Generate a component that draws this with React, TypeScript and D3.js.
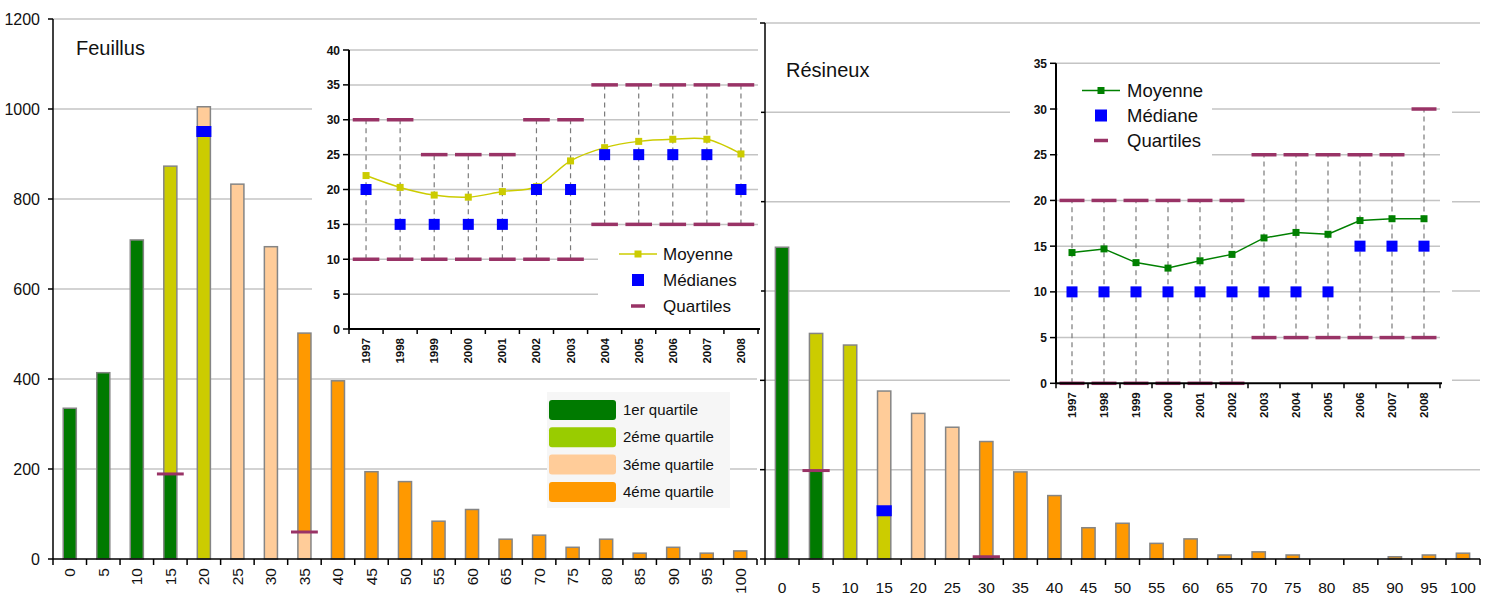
import React from 'react';
import * as d3 from 'd3';

// constants
const width = 1493;
const height = 599;
const font = "'Liberation Sans', Arial, sans-serif";

// classes de diametre
const classes = ['0', '5', '10', '15', '20', '25', '30', '35', '40', '45', '50', '55', '60', '65', '70', '75', '80', '85', '90', '95', '100'];

// effectifs par classe
const feuillusCounts = [335, 414, 709, 873, 1005, 833, 694, 502, 396, 194, 172, 84, 110, 44, 53, 26, 44, 13, 26, 13, 18];
const resineuxCounts = [698, 505, 479, 376, 326, 295, 263, 195, 142, 70, 80, 35, 45, 9, 16, 9, 0, 0, 5, 9, 13];

// quartile of the lower part of each bar
const feuillusQuartile = [1, 1, 1, 1, 2, 3, 3, 3, 4, 4, 4, 4, 4, 4, 4, 4, 4, 4, 4, 4, 4];
const resineuxQuartile = [1, 1, 2, 2, 3, 3, 3, 4, 4, 4, 4, 4, 4, 4, 4, 4, 4, 4, 4, 4, 4];

// bars that change quartile
const feuillusSplitClass = ['15', '20', '35'];
const feuillusSplitValue = [189, 950, 60];
const feuillusSplitMark = ['quartile', 'median', 'quartile'];
const resineuxSplitClass = ['5', '15', '30'];
const resineuxSplitValue = [198, 108, 5];
const resineuxSplitMark = ['quartile', 'median', 'quartile'];

const quartileLabels = ['1er quartile', '2éme quartile', '3éme quartile', '4éme quartile'];
const quartileColors = ['#007a00', '#cccc00', '#ffcc99', '#ff9900'];
const legendColors = ['#007a00', '#99cc00', '#ffcc99', '#ff9900'];

// inset series
const years = ['1997', '1998', '1999', '2000', '2001', '2002', '2003', '2004', '2005', '2006', '2007', '2008'];
const feuillusMoyenne = [22, 20.3, 19.2, 18.9, 19.7, 20.4, 24.1, 26, 26.9, 27.2, 27.2, 25.1];
const feuillusMediane = [20, 15, 15, 15, 15, 20, 20, 25, 25, 25, 25, 20];
const feuillusQ1 = [10, 10, 10, 10, 10, 10, 10, 15, 15, 15, 15, 15];
const feuillusQ3 = [30, 30, 25, 25, 25, 30, 30, 35, 35, 35, 35, 35];
const resineuxMoyenne = [14.3, 14.7, 13.2, 12.6, 13.4, 14.1, 15.9, 16.5, 16.3, 17.8, 18, 18];
const resineuxMediane = [10, 10, 10, 10, 10, 10, 10, 10, 10, 15, 15, 15];
const resineuxQ1 = [0, 0, 0, 0, 0, 0, 5, 5, 5, 5, 5, 5];
const resineuxQ3 = [20, 20, 20, 20, 20, 20, 25, 25, 25, 25, 25, 30];

const MainChart = ({ left, right, top, bottom, counts, quart, splitClass, splitValue, splitMark, title, titleX, titleY, rotated, yLabels }) => {
  const x = d3.scaleBand().domain(classes).range([left, right]);
  const y = d3.scaleLinear().domain([0, 1200]).range([bottom, top]);
  const bw = x.bandwidth();
  const barW = bw * 0.39;
  const ticks = d3.range(0, 1201, 200);

  return (
    <g fontFamily={font}>
      {ticks.filter(t => t > 0).map(t => (
        <line key={t} x1={left} x2={right} y1={y(t)} y2={y(t)} stroke="#c4c4c4" strokeWidth={1.5} />
      ))}
      {classes.map((c, i) => {
        const cx = x(c) + bw / 2;
        const k = splitClass.indexOf(c);
        const q = quart[i] - 1;
        const segs = k < 0
          ? [{ q, a: 0, b: counts[i] }]
          : [{ q, a: 0, b: splitValue[k] }, { q: q + 1, a: splitValue[k], b: counts[i] }];
        return (
          <g key={c}>
            {segs.map((s, j) => (
              <rect key={j} x={cx - barW / 2} y={y(s.b)} width={barW} height={y(s.a) - y(s.b)}
                fill={quartileColors[s.q]} />
            ))}
            {counts[i] > 0 && (
              <rect x={cx - barW / 2} y={y(counts[i])} width={barW} height={y(0) - y(counts[i])}
                fill="none" stroke="#858585" strokeWidth={1.5} />
            )}
          </g>
        );
      })}
      {splitClass.map((c, k) => {
        const cx = x(c) + bw / 2;
        return splitMark[k] === 'median'
          ? <rect key={c} x={cx - barW / 2 - 1} y={y(splitValue[k]) - 5.5} width={barW + 2} height={11} fill="#0000ff" />
          : <line key={c} x1={cx - bw * 0.4} x2={cx + bw * 0.4} y1={y(splitValue[k])} y2={y(splitValue[k])}
              stroke="#993366" strokeWidth={3} />;
      })}
      {/* axes */}
      <line x1={left} x2={left} y1={top} y2={bottom} stroke="#000" strokeWidth={1.5} />
      <line x1={left} x2={right} y1={bottom} y2={bottom} stroke="#000" strokeWidth={1.5} />
      {ticks.map(t => (
        <g key={t}>
          <line x1={left - 5} x2={left} y1={y(t)} y2={y(t)} stroke="#000" strokeWidth={1.5} />
          {yLabels && <text x={left - 13} y={y(t) + 5.5} textAnchor="end" fontSize={16} fill="#111">{t}</text>}
        </g>
      ))}
      {classes.map(c => (
        <line key={c} x1={x(c)} x2={x(c)} y1={bottom} y2={bottom + 6} stroke="#000" strokeWidth={1.5} />
      ))}
      <line x1={right} x2={right} y1={bottom} y2={bottom + 6} stroke="#000" strokeWidth={1.5} />
      {classes.map(c => {
        const cx = x(c) + bw / 2;
        return rotated
          ? <text key={c} transform={`translate(${cx},${bottom + 9}) rotate(-90)`} textAnchor="end"
              dominantBaseline="central" fontSize={15.5} fill="#111">{c}</text>
          : <text key={c} x={cx} y={bottom + 34} textAnchor="middle" fontSize={15.5} fill="#111">{c}</text>;
      })}
      <text x={titleX} y={titleY} fontSize={20} fill="#111">{title}</text>
    </g>
  );
};

const Inset = ({ bg, left, right, top, bottom, yMax, moyenne, mediane, q1, q3, color, curve, legendBox, legend, labels, legendFont }) => {
  const x = d3.scaleBand().domain(years).range([left, right]);
  const y = d3.scaleLinear().domain([0, yMax]).range([bottom, top]);
  const bw = x.bandwidth();
  const cx = (i) => x(years[i]) + bw / 2;
  const ticks = d3.range(0, yMax + 1, 5);
  const line = d3.line().x((d, i) => cx(i)).y(d => y(d)).curve(curve);

  return (
    <g fontFamily={font}>
      <rect x={bg.x} y={bg.y} width={bg.w} height={bg.h} fill="#fff" />
      {ticks.filter(t => t > 0).map(t => (
        <line key={t} x1={left} x2={right} y1={y(t)} y2={y(t)} stroke="#c4c4c4" strokeWidth={1.5} />
      ))}
      <rect x={legendBox.x} y={legendBox.y} width={legendBox.w} height={legendBox.h} fill="#fff" />
      {years.map((yr, i) => (
        <line key={yr} x1={cx(i)} x2={cx(i)} y1={y(q1[i])} y2={y(q3[i])} stroke="#7a7a7a"
          strokeWidth={1.2} strokeDasharray="5,4" />
      ))}
      {years.map((yr, i) => (
        <g key={yr}>
          <line x1={cx(i) - bw * 0.39} x2={cx(i) + bw * 0.39} y1={y(q1[i])} y2={y(q1[i])} stroke="#993366" strokeWidth={3.5} />
          <line x1={cx(i) - bw * 0.39} x2={cx(i) + bw * 0.39} y1={y(q3[i])} y2={y(q3[i])} stroke="#993366" strokeWidth={3.5} />
        </g>
      ))}
      <path d={line(moyenne)} fill="none" stroke={color} strokeWidth={1.5} />
      {moyenne.map((v, i) => (
        <rect key={i} x={cx(i) - 3.5} y={y(v) - 3.5} width={7} height={7} fill={color} />
      ))}
      {mediane.map((v, i) => (
        <rect key={i} x={cx(i) - 5.5} y={y(v) - 5.5} width={11} height={11} fill="#0000ff" />
      ))}
      {/* axes */}
      <line x1={left} x2={left} y1={top} y2={bottom} stroke="#000" strokeWidth={2} />
      <line x1={left} x2={right + 2} y1={bottom} y2={bottom} stroke="#000" strokeWidth={2} />
      {ticks.map(t => (
        <g key={t}>
          <line x1={left - 6} x2={left} y1={y(t)} y2={y(t)} stroke="#000" strokeWidth={1.5} />
          <text x={left - 9} y={y(t) + 4.5} textAnchor="end" fontSize={12} fontWeight="bold" fill="#111">{t}</text>
        </g>
      ))}
      {years.map(yr => (
        <line key={yr} x1={x(yr)} x2={x(yr)} y1={bottom} y2={bottom + 5} stroke="#000" strokeWidth={1.5} />
      ))}
      <line x1={right} x2={right} y1={bottom} y2={bottom + 5} stroke="#000" strokeWidth={1.5} />
      {years.map((yr, i) => (
        <text key={yr} transform={`translate(${cx(i)},${bottom + 9}) rotate(-90)`} textAnchor="end"
          dominantBaseline="central" fontSize={11.5} fontWeight="bold" fill="#111">{yr}</text>
      ))}
      {/* legend */}
      <line x1={legend.x - 19} x2={legend.x + 19} y1={legend.y} y2={legend.y} stroke={color} strokeWidth={1.5} />
      <rect x={legend.x - 3.5} y={legend.y - 3.5} width={7} height={7} fill={color} />
      <rect x={legend.x - 6} y={legend.y + legend.step - 6} width={12} height={12} fill="#0000ff" />
      <line x1={legend.x - 7} x2={legend.x + 7} y1={legend.y + 2 * legend.step} y2={legend.y + 2 * legend.step}
        stroke="#993366" strokeWidth={3.5} />
      {labels.map((l, i) => (
        <text key={l} x={legend.tx} y={legend.y + i * legend.step + legendFont * 0.36} fontSize={legendFont} fill="#111">{l}</text>
      ))}
    </g>
  );
};

const App = () => {
  return (
    <svg width={width} height={height} style={{ position: 'absolute', left: 0, top: 0, background: '#fff' }}>
      <rect width={width} height={height} fill="#fff" />
      <MainChart left={53} right={757} top={19} bottom={559} counts={feuillusCounts} quart={feuillusQuartile}
        splitClass={feuillusSplitClass} splitValue={feuillusSplitValue} splitMark={feuillusSplitMark}
        title="Feuillus" titleX={76} titleY={55} rotated={true} yLabels={true} />
      <MainChart left={765} right={1480} top={23} bottom={559} counts={resineuxCounts} quart={resineuxQuartile}
        splitClass={resineuxSplitClass} splitValue={resineuxSplitValue} splitMark={resineuxSplitMark}
        title="Résineux" titleX={786} titleY={77} rotated={false} yLabels={false} />
      <Inset bg={{ x: 312, y: 40, w: 449, h: 335 }} left={349} right={758} top={50} bottom={329} yMax={40}
        moyenne={feuillusMoyenne} mediane={feuillusMediane} q1={feuillusQ1} q3={feuillusQ3}
        color="#cccc00" curve={d3.curveCatmullRom}
        legendBox={{ x: 598, y: 236, w: 162, h: 84 }}
        legend={{ x: 638, y: 254, step: 26, tx: 663 }}
        labels={['Moyenne', 'Médianes', 'Quartiles']} legendFont={17} />
      <Inset bg={{ x: 1010, y: 50, w: 442, h: 375 }} left={1056} right={1440} top={63.3} bottom={383.3} yMax={35}
        moyenne={resineuxMoyenne} mediane={resineuxMediane} q1={resineuxQ1} q3={resineuxQ3}
        color="#008000" curve={d3.curveLinear}
        legendBox={{ x: 1058, y: 68, w: 154, h: 102 }}
        legend={{ x: 1101, y: 90.5, step: 25, tx: 1127 }}
        labels={['Moyenne', 'Médiane', 'Quartiles']} legendFont={18.5} />
      {/* quartile colour legend */}
      <g fontFamily={font}>
        <rect x={547} y={392} width={183} height={116} fill="#f6f6f6" />
        {quartileLabels.map((l, i) => (
          <g key={l}>
            <rect x={549} y={400 + i * 27.3} width={67} height={20} rx={3} fill={legendColors[i]} />
            <text x={623} y={415 + i * 27.3} fontSize={15} fill="#111">{l}</text>
          </g>
        ))}
      </g>
    </svg>
  );
};

export default App;
